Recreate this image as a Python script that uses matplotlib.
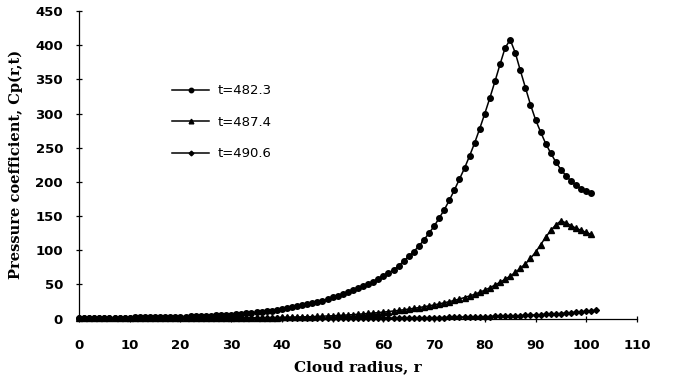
import numpy as np
import matplotlib
matplotlib.use("Agg")
import matplotlib.pyplot as plt

# radio de la nube (puntos cada 1.0)
r = list(range(0, 102))
r3 = list(range(0, 103))

# Cp(r,t), t = 482.3
cp_482 = [0.8, 0.9, 0.9, 0.9, 1.0, 1.0, 1.1, 1.1, 1.2, 1.3,
          1.4, 1.5, 1.6, 1.7, 1.8, 1.9, 2.0, 2.1, 2.3, 2.5,
          2.7, 2.9, 3.1, 3.4, 3.7, 4.0, 4.3, 4.6, 5.0, 5.4,
          5.8, 6.3, 6.8, 7.4, 8.1, 8.8, 9.6, 10.5, 11.5, 12.6,
          13.8, 15.0, 16.5, 18.0, 19.5, 21.0, 22.5, 24.0, 26.0, 28.5,
          31.0, 33.5, 36.0, 38.5, 41.0, 44.0, 47.0, 50.0, 54.0, 58.0,
          62.0, 66.5, 71.0, 77.0, 84.0, 91.0, 98.0, 106.0, 115.0, 125.0,
          135.0, 147.0, 159.0, 173.0, 188.0, 204.0, 220.0, 238.0, 257.0, 278.0,
          300.0, 323.0, 347.0, 372.0, 396.0, 408.0, 389.0, 363.0, 338.0, 313.0,
          291.0, 273.0, 256.0, 242.0, 229.0, 218.0, 209.0, 201.0, 195.0, 190.0,
          186.0, 183.0]

# t = 487.4
cp_487 = [0.2, 0.2, 0.2, 0.3, 0.3, 0.3, 0.3, 0.3, 0.4, 0.4,
          0.4, 0.4, 0.4, 0.5, 0.5, 0.5, 0.5, 0.5, 0.6, 0.6,
          0.6, 0.6, 0.7, 0.7, 0.7, 0.7, 0.8, 0.8, 0.8, 0.9,
          0.9, 0.9, 1.0, 1.0, 1.1, 1.1, 1.2, 1.2, 1.3, 1.4,
          1.5, 1.7, 1.9, 2.1, 2.3, 2.5, 2.8, 3.1, 3.4, 3.7,
          4.0, 4.4, 4.8, 5.2, 5.7, 6.2, 6.8, 7.4, 8.0, 8.7,
          9.4, 10.2, 11.0, 11.9, 12.8, 13.8, 14.9, 16.0, 17.2, 18.5,
          19.9, 21.4, 23.0, 24.7, 26.5, 28.5, 30.7, 33.0, 35.5, 38.5,
          41.5, 45.0, 49.0, 53.0, 57.5, 62.0, 67.5, 73.5, 80.0, 88.0,
          97.0, 108.0, 119.0, 129.0, 137.0, 143.0, 140.0, 136.0, 132.0, 129.0,
          126.0, 123.0]

# t = 490.6
cp_490 = [0.1, 0.1, 0.1, 0.1, 0.1, 0.1, 0.1, 0.1, 0.1, 0.1,
          0.1, 0.1, 0.1, 0.1, 0.1, 0.1, 0.1, 0.1, 0.1, 0.1,
          0.1, 0.1, 0.1, 0.1, 0.1, 0.1, 0.1, 0.1, 0.1, 0.1,
          0.2, 0.2, 0.2, 0.2, 0.2, 0.2, 0.2, 0.2, 0.2, 0.2,
          0.2, 0.2, 0.2, 0.2, 0.2, 0.2, 0.2, 0.2, 0.3, 0.3,
          0.3, 0.3, 0.3, 0.3, 0.3, 0.3, 0.4, 0.4, 0.4, 0.4,
          0.5, 0.5, 0.6, 0.6, 0.7, 0.8, 0.8, 0.9, 1.0, 1.1,
          1.2, 1.3, 1.4, 1.5, 1.7, 1.8, 2.0, 2.1, 2.3, 2.4,
          2.6, 2.8, 3.0, 3.2, 3.4, 3.7, 3.9, 4.2, 4.5, 4.8,
          5.2, 5.6, 6.0, 6.4, 6.8, 7.3, 7.8, 8.4, 9.0, 9.6,
          10.3, 11.2, 12.0]

etiquetas = ['t=482.3', 't=487.4', 't=490.6']

fig = plt.figure(figsize=(6.74, 3.92), dpi=100)
ax = fig.add_axes([0.1172, 0.1875, 0.8279, 0.7844])

kw = dict(color='black', linewidth=1.1, clip_on=False)
ax.plot(r, cp_482, marker='o', markersize=4.0, label=etiquetas[0], **kw)
ax.plot(r, cp_487, marker='^', markersize=4.2, label=etiquetas[1], **kw)
ax.plot(r3, cp_490, marker='D', markersize=3.0, label=etiquetas[2], **kw)

ax.set_xlim(0, 110)
ax.set_ylim(0, 450)
ax.set_xticks(np.arange(0, 111, 10))
ax.set_yticks(np.arange(0, 451, 50))

for lado in ['top', 'right']:
    ax.spines[lado].set_visible(False)
for lado in ['left', 'bottom']:
    ax.spines[lado].set_linewidth(0.9)

ax.tick_params(axis='both', direction='inout', length=5, width=0.9)
ax.tick_params(axis='x', pad=12)
ax.tick_params(axis='y', pad=9)
for lab in ax.get_xticklabels() + ax.get_yticklabels():
    lab.set_fontfamily('DejaVu Sans')
    lab.set_fontweight('bold')
    lab.set_fontsize(9.5)

ax.set_xlabel('Cloud radius, r', fontfamily='DejaVu Serif', fontweight='bold',
              fontsize=11, labelpad=6)
ax.set_ylabel('Pressure coefficient, Cp(r,t)', fontfamily='DejaVu Serif',
              fontweight='bold', fontsize=10.5, labelpad=9)

ax.legend(loc='upper left', bbox_to_anchor=(0.158, 0.779), frameon=False,
          borderaxespad=0, handlelength=2.8, handletextpad=0.65,
          labelspacing=1.4, markerscale=0.8,
          prop={'family': 'DejaVu Sans', 'size': 9.5})

plt.savefig('out.png', dpi=100)
